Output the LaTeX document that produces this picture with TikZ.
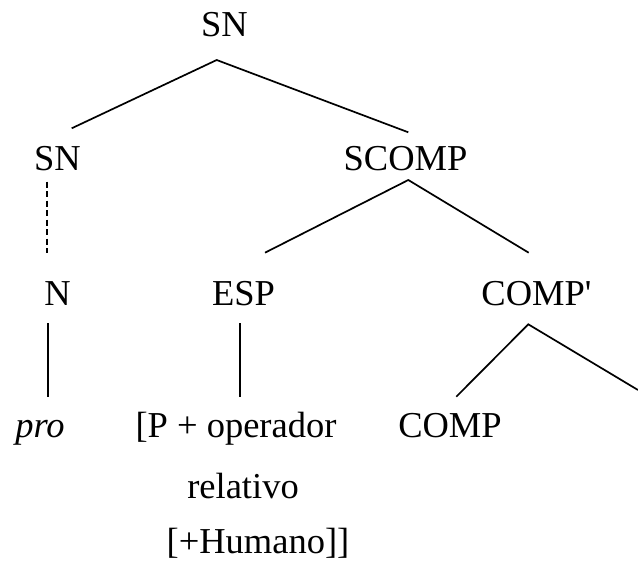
\documentclass[tikz,border=0pt]{standalone}
\usepackage{fontspec}
\setmainfont{Liberation Serif}
\begin{document}
\begin{tikzpicture}[x=1pt,y=-1pt,
  lbl/.style={anchor=base, inner sep=0pt, font=\fontsize{36.5}{40}\selectfont},
  edge/.style={line width=1.7pt},
  dashedge/.style={line width=1.7pt, dash pattern=on 6pt off 3.5pt}]
\useasboundingbox (0,0) rectangle (638,563);
% labels
\node[lbl] (sn0) at (224.5,36) {SN};
\node[lbl] (sn1) at (57.5,170) {SN};
\node[lbl] (scomp) at (405.5,170) {SCOMP};
\node[lbl] (n) at (57.5,305) {N};
\node[lbl] (esp) at (243.5,305) {ESP};
\node[lbl] (compbar) at (536.5,305) {COMP\textquotesingle};
\node[lbl] (pro) at (40,437.5) {\itshape pro};
\node[lbl] (pop) at (236,437.5) {[P + operador};
\node[lbl] (rel) at (243,498) {relativo};
\node[lbl] (hum) at (258,553) {[+Humano]]};
\node[lbl] (comp) at (450,437) {COMP};
% connector ends
\coordinate (sn0-b) at (216.7,60);
\coordinate (sn1-t) at (71.7,128.3);
\coordinate (scomp-t) at (408.3,132.3);
\coordinate (scomp-b) at (408.3,180);
\coordinate (esp-t) at (265,252.7);
\coordinate (compbar-t) at (528.7,252.7);
\coordinate (sn1-b) at (47.3,181.7);
\coordinate (n-t) at (47.3,253);
\coordinate (n-b) at (48.3,323);
\coordinate (pro-t) at (48.3,396.5);
\coordinate (esp-b) at (240,323);
\coordinate (pop-t) at (240,396.7);
\coordinate (compbar-b) at (528.3,324.3);
\coordinate (comp-t) at (456.3,396.7);
\coordinate (offright) at (638,390);
% connectors
\draw[edge] (sn1-t) -- (sn0-b) -- (scomp-t);
\draw[edge] (esp-t) -- (scomp-b) -- (compbar-t);
\draw[dashedge] (sn1-b) -- (n-t);
\draw[edge] (n-b) -- (pro-t);
\draw[edge] (esp-b) -- (pop-t);
\draw[edge] (comp-t) -- (compbar-b) -- (offright);
\end{tikzpicture}
\end{document}
